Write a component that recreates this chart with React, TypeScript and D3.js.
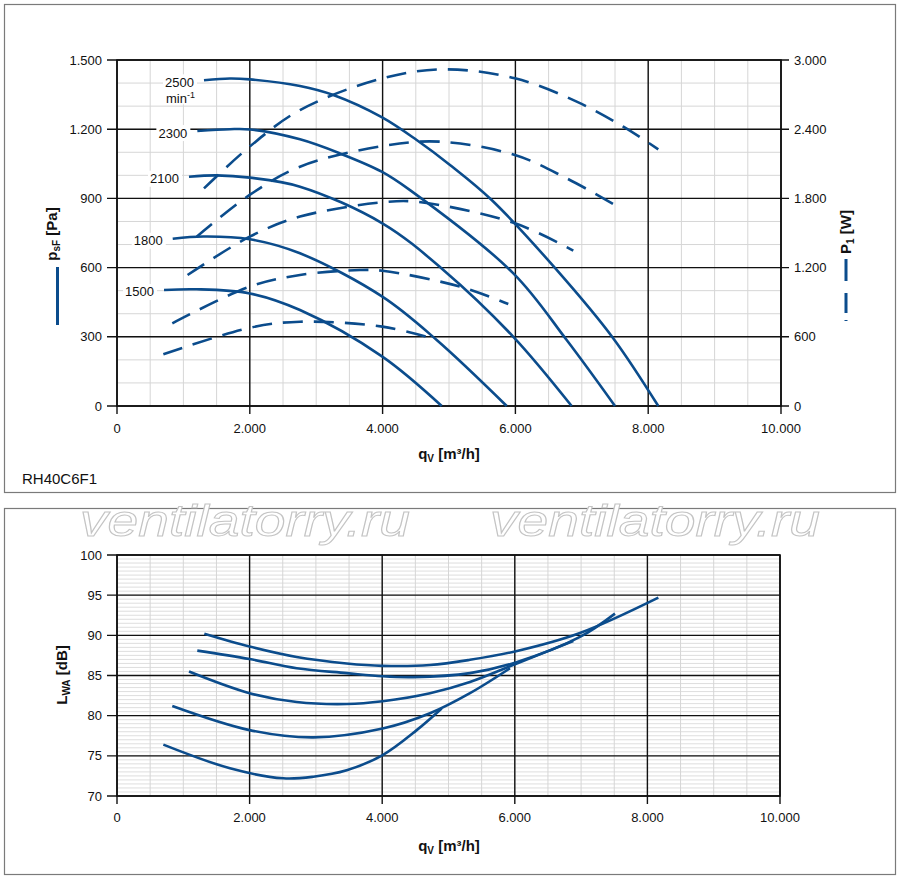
import * as d3 from 'd3'

type Pt = [number, number]

// axis ticks
const qTicks = [0, 2000, 4000, 6000, 8000, 10000]
const psfTicks = [0, 300, 600, 900, 1200, 1500]
const p1Ticks = [0, 600, 1200, 1800, 2400, 3000]
const lwaTicks = [70, 75, 80, 85, 90, 95, 100]
const speedLabels = ['1500', '1800', '2100', '2300', '2500']

// static pressure p_sF [Pa] vs q_V [m3/h]
const psf1500: Pt[] = [[708, 503], [1200, 506], [2000, 488], [2756, 416], [3996, 214], [4890, 0]]
const psf1800: Pt[] = [[839, 725], [1300, 735], [2000, 723], [2756, 662], [3996, 474], [4815, 286], [5869, 0]]
const psf2100: Pt[] = [[1084, 994], [1500, 1000], [2000, 990], [2756, 951], [3996, 792], [4915, 590], [5969, 300], [6847, 0]]
const psf2300: Pt[] = [[1210, 1192], [1700, 1200], [2000, 1199], [2756, 1156], [3358, 1095], [3986, 1016], [4413, 936], [5969, 575], [6772, 286], [7500, 0]]
const psf2500: Pt[] = [[1310, 1412], [1700, 1420], [2000, 1416], [2756, 1387], [3258, 1348], [3986, 1252], [4513, 1153], [5015, 1045], [5643, 893], [6622, 590], [7475, 293], [8152, 0]]

// input power P_1 [W]
const p1500: Pt[] = [[698, 448], [1998, 678], [2756, 731], [3996, 688], [4714, 592]]
const p1800: Pt[] = [[833, 717], [1998, 1035], [2756, 1136], [3660, 1179], [3996, 1173], [5166, 1035], [5893, 884]]
const p2100: Pt[] = [[1063, 1136], [1998, 1468], [2756, 1642], [3996, 1766], [4513, 1771], [5994, 1584], [6872, 1347]]
const p2300: Pt[] = [[1200, 1468], [1998, 1830], [2756, 2075], [3996, 2254], [4864, 2292], [5994, 2176], [6772, 1974], [7500, 1743]]
const p2500: Pt[] = [[1310, 1887], [1998, 2249], [2756, 2566], [3996, 2841], [4915, 2919], [5994, 2841], [6923, 2639], [7625, 2422], [8152, 2225]]

// sound power L_WA [dB]
const lwa1500: Pt[] = [[699, 76.4], [1704, 73.45], [2509, 72.2], [2961, 72.4], [3464, 73.2], [4007, 75.1], [4520, 78.2], [4897, 80.9]]
const lwa1800: Pt[] = [[834, 81.2], [2000, 78.2], [2961, 77.3], [4007, 78.4], [4721, 80.3], [5324, 82.8], [5928, 85.9]]
const lwa2100: Pt[] = [[1086, 85.5], [2000, 82.8], [2710, 81.7], [3464, 81.45], [4007, 81.8], [4721, 82.8], [5324, 84.2], [6003, 86.4], [6882, 89.3]]
const lwa2300: Pt[] = [[1211, 88.1], [2000, 87.05], [2710, 85.9], [3464, 85.3], [4007, 84.9], [4469, 84.8], [5324, 85.3], [6003, 86.6], [6983, 89.8], [7511, 92.7]]
const lwa2500: Pt[] = [[1317, 90.2], [2000, 88.6], [2710, 87.3], [3464, 86.5], [4007, 86.2], [4721, 86.3], [5324, 86.95], [6003, 88.0], [6983, 90.3], [8165, 94.7]]

const psfCurves = [psf1500, psf1800, psf2100, psf2300, psf2500]
const p1Curves = [p1500, p1800, p2100, p2300, p2500]
const lwaCurves = [lwa1500, lwa1800, lwa2100, lwa2300, lwa2500]

const blue = '#0b4c8c'
const minorGrid = '#d6d6d6'
const font = 'Liberation Sans, Arial, Helvetica, sans-serif'

const de = d3.formatLocale({ decimal: ',', thousands: '.', grouping: [3], currency: ['', ''] })
const fmt = de.format(',')

const range = (a: number, b: number, step: number) => d3.range(a, b + step / 2, step)

export default function App() {
  // top chart scales
  const x1 = d3.scaleLinear().domain([0, 10000]).range([117, 781])
  const yP = d3.scaleLinear().domain([0, 1500]).range([406, 60])
  const yW = d3.scaleLinear().domain([0, 3000]).range([406, 60])
  // bottom chart scales
  const x2 = d3.scaleLinear().domain([0, 10000]).range([117, 780])
  const yL = d3.scaleLinear().domain([70, 100]).range([796, 555])

  const curve = d3.curveCatmullRom.alpha(0.5)
  const lineP = d3.line<Pt>().x((d) => x1(d[0])).y((d) => yP(d[1])).curve(curve)
  const lineW = d3.line<Pt>().x((d) => x1(d[0])).y((d) => yW(d[1])).curve(curve)
  const lineL = d3.line<Pt>().x((d) => x2(d[0])).y((d) => yL(d[1])).curve(curve)

  const [tx0, tx1] = x1.range()
  const [ty0, ty1] = [yP.range()[1], yP.range()[0]]
  const [bx0, bx1] = x2.range()
  const [by0, by1] = [yL.range()[1], yL.range()[0]]

  return (
    <div style={{ position: 'absolute', left: 0, top: 0 }}>
      <svg width={900} height={879} fontFamily={font} style={{ display: 'block' }}>
        <rect width={900} height={879} fill="#fff" />
        {/* frames */}
        <rect x={4.5} y={4.5} width={891} height={488} fill="none" stroke="#7a7a7a" strokeWidth={1.2} />
        <rect x={4.5} y={508.5} width={891} height={366} fill="none" stroke="#7a7a7a" strokeWidth={1.2} />

        {/* ---------- top chart grid ---------- */}
        <g strokeWidth={1} stroke={minorGrid}>
          {range(0, 10000, 500).map((v) => (
            <line key={'tvx' + v} x1={x1(v)} x2={x1(v)} y1={ty0} y2={ty1} />
          ))}
          {range(0, 1500, 100).map((v) => (
            <line key={'tvy' + v} x1={tx0} x2={tx1} y1={yP(v)} y2={yP(v)} />
          ))}
        </g>
        <g stroke="#111" strokeWidth={1.4}>
          {qTicks.map((v) => (
            <line key={'tgx' + v} x1={x1(v)} x2={x1(v)} y1={ty0} y2={ty1 + 8} />
          ))}
          {psfTicks.map((v) => (
            <line key={'tgy' + v} x1={tx0 - 10} x2={tx1 + 8} y1={yP(v)} y2={yP(v)} />
          ))}
          <rect x={tx0} y={ty0} width={tx1 - tx0} height={ty1 - ty0} fill="none" strokeWidth={1.6} />
        </g>
        <g fontSize={13} fill="#111">
          {psfTicks.map((v) => (
            <text key={'tly' + v} x={102} y={yP(v) + 4.5} textAnchor="end">
              {fmt(v)}
            </text>
          ))}
          {p1Ticks.map((v) => (
            <text key={'tlw' + v} x={794} y={yW(v) + 4.5}>
              {fmt(v)}
            </text>
          ))}
          {qTicks.map((v) => (
            <text key={'tlx' + v} x={x1(v)} y={433} textAnchor="middle">
              {fmt(v)}
            </text>
          ))}
        </g>

        {/* curves */}
        <g fill="none" stroke={blue} strokeWidth={2.6}>
          {psfCurves.map((c, i) => (
            <path key={'psf' + i} d={lineP(c)!} />
          ))}
          {p1Curves.map((c, i) => (
            <path key={'p1' + i} d={lineW(c)!} strokeDasharray="20 11" />
          ))}
        </g>

        {/* speed labels */}
        <g fontSize={13} fill="#111">
          {psfCurves.map((c, i) => {
            const xe = x1(c[0][0]) - 10
            const yc = yP(c[0][1]) + 2
            const top = speedLabels[i] === '2500'
            return (
              <g key={'lab' + i}>
                <rect x={xe - 31} y={yc - 8} width={34} height={top ? 30 : 16} fill="#fff" />
                <text x={xe} y={yc + 4.5} textAnchor="end">
                  {speedLabels[i]}
                </text>
                {top && (
                  <text x={xe + 1} y={yc + 21} textAnchor="end">
                    min<tspan fontSize={9} dy={-5}>-1</tspan>
                  </text>
                )}
              </g>
            )
          })}
        </g>

        {/* axis titles top */}
        <text x={449} y={459} textAnchor="middle" fontSize={15} fontWeight="bold" fill="#111">
          q<tspan fontSize={10} dy={3}>V</tspan>
          <tspan dy={-3}> [m³/h]</tspan>
        </text>
        <text transform="translate(57,234) rotate(-90)" textAnchor="middle" fontSize={15} fontWeight="bold" fill="#111">
          p<tspan fontSize={10} dy={3}>sF</tspan>
          <tspan dy={-3}> [Pa]</tspan>
        </text>
        <line x1={57.5} x2={57.5} y1={267} y2={325} stroke={blue} strokeWidth={3} />
        <text transform="translate(851,232) rotate(-90)" textAnchor="middle" fontSize={15} fontWeight="bold" fill="#111">
          P<tspan fontSize={10} dy={3}>1</tspan>
          <tspan dy={-3}> [W]</tspan>
        </text>
        <line x1={846} x2={846} y1={259} y2={321} stroke={blue} strokeWidth={3} strokeDasharray="22 12 20 7 1.5 100" />

        <text x={22} y={484} fontSize={15} fill="#111">
          RH40C6F1
        </text>

        {/* ---------- bottom chart grid ---------- */}
        <g strokeWidth={1} stroke={minorGrid}>
          {range(0, 10000, 500).map((v) => (
            <line key={'bvx' + v} x1={x2(v)} x2={x2(v)} y1={by0} y2={by1} />
          ))}
          {range(70, 100, 0.5).map((v) => (
            <line key={'bvy' + v} x1={bx0} x2={bx1} y1={yL(v)} y2={yL(v)} strokeWidth={0.8} />
          ))}
        </g>
        <g stroke="#111" strokeWidth={1.4}>
          {qTicks.map((v) => (
            <line key={'bgx' + v} x1={x2(v)} x2={x2(v)} y1={by0} y2={by1 + 8} />
          ))}
          {lwaTicks.map((v) => (
            <line key={'bgy' + v} x1={bx0 - 10} x2={bx1} y1={yL(v)} y2={yL(v)} />
          ))}
          <rect x={bx0} y={by0} width={bx1 - bx0} height={by1 - by0} fill="none" strokeWidth={1.6} />
        </g>
        <g fontSize={13} fill="#111">
          {lwaTicks.map((v) => (
            <text key={'bly' + v} x={102} y={yL(v) + 4.5} textAnchor="end">
              {v}
            </text>
          ))}
          {qTicks.map((v) => (
            <text key={'blx' + v} x={x2(v)} y={822} textAnchor="middle">
              {fmt(v)}
            </text>
          ))}
        </g>
        <g fill="none" stroke={blue} strokeWidth={2.6}>
          {lwaCurves.map((c, i) => (
            <path key={'lwa' + i} d={lineL(c)!} />
          ))}
        </g>
        <text x={449} y={851} textAnchor="middle" fontSize={15} fontWeight="bold" fill="#111">
          q<tspan fontSize={10} dy={3}>V</tspan>
          <tspan dy={-3}> [m³/h]</tspan>
        </text>
        <text transform="translate(67,675) rotate(-90)" textAnchor="middle" fontSize={15} fontWeight="bold" fill="#111">
          L<tspan fontSize={10} dy={3}>WA</tspan>
          <tspan dy={-3}> [dB]</tspan>
        </text>

        {/* watermark */}
        <g fontSize={44} fontStyle="italic" fill="#fff" stroke="#c4c4c4" strokeWidth={1}>
          <text x={80} y={536} textLength={330} lengthAdjust="spacingAndGlyphs">
            ventilatorry.ru
          </text>
          <text x={490} y={536} textLength={330} lengthAdjust="spacingAndGlyphs">
            ventilatorry.ru
          </text>
        </g>
      </svg>
    </div>
  )
}
